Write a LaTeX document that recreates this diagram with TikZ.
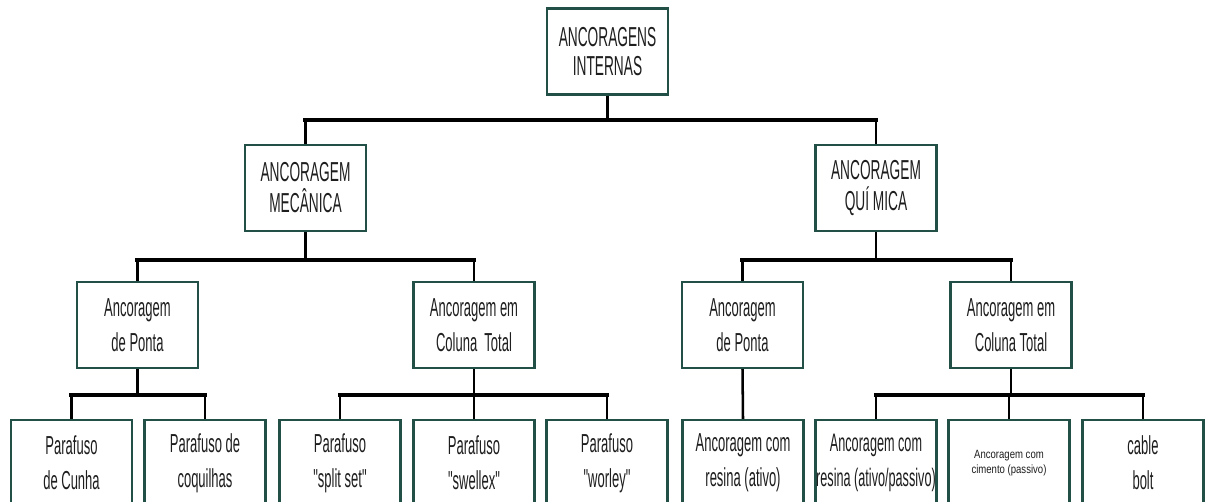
\documentclass[tikz,border=0pt]{standalone}
\usepackage{fontspec}
\setmainfont{Liberation Sans}[FakeStretch=0.5,Ligatures=TeXOff]
\newfontfamily\tinyfont{Liberation Sans}[FakeStretch=0.8]
\usepackage{tikz}
\usetikzlibrary{positioning,calc}
\definecolor{boxline}{RGB}{35,80,70}
\definecolor{boxtext}{RGB}{30,30,30}
\tikzset{
  box/.style={draw=boxline,line width=1.5pt,fill=white,minimum width=3.025cm,minimum height=2.15cm,
    inner sep=0pt,align=center,text=boxtext,font=\fontsize{18.5}{25}\selectfont},
  bigbox/.style={box,font=\fontsize{19.5}{22}\selectfont},
  stem/.style={black,line width=1.8pt},
  bar/.style={black,line width=3.4pt,line cap=rect}
}

\begin{document}
\begin{tikzpicture}[x=0.025cm,y=-0.025cm]
\useasboundingbox (0,0) rectangle (1208,501);
\clip (0,0) rectangle (1208,501);
% levels of the bars
\coordinate (bar1) at (0,120);
\coordinate (bar2) at (0,260);
\coordinate (bar3) at (0,395);
% top
\node[bigbox,font=\fontsize{19.5}{20}\selectfont] (top) at (607.5,51.5) {ANCORAGENS\\INTERNAS};
% second level
\node[bigbox] (mec) at (305.5,188) {ANCORAGEM\\MECÂNICA};
\node[bigbox] (qui) at (876,188) {ANCORAGEM\\QUÍ MICA};
% third level
\node[box] (ponta1) at (137.5,325) {Ancoragem\\de Ponta};
\node[box] (coluna1) at (474,325) {Ancoragem em\\Coluna\ \ Total};
\node[box] (ponta2) at (742.5,325) {Ancoragem\\de Ponta};
\node[box] (coluna2) at (1011,325) {Ancoragem em\\Coluna Total};
% fourth level
\node[box] (cunha) at (71.5,463) {Parafuso\\de Cunha};
\node[box] (coquilhas) at (205,463) {Parafuso de\\coquilhas};
\node[box] (splitset) at (340,463) {Parafuso\\"split set"};
\node[box] (swellex) at (474,463) {Parafuso\\"swellex"};
\node[box] (worley) at (607,463) {Parafuso\\"worley"};
\node[box] (resina) at (743,463) {Ancoragem com\\resina (ativo)};
\node[box,font=\fontsize{18}{25}\selectfont] (resinaap) at (876,463) {Ancoragem com\\resina (ativo/passivo)};
\node[box] (cimento) at (1009,463) {\raisebox{0.2cm}{\tinyfont\fontsize{8.5}{10.6}\selectfont
  \begin{tabular}{@{}c@{}}Ancoragem com\\cimento (passivo)\end{tabular}}};
\node[box] (cable) at (1143,463) {cable\\bolt};

% connectors
\draw[stem] (top.south) -- (top.south |- bar1);
\draw[bar] (mec.north |- bar1) -- (qui.north |- bar1);
\draw[stem] (mec.north |- bar1) -- (mec.north);
\draw[stem] (qui.north |- bar1) -- (qui.north);

\draw[stem] (mec.south) -- (mec.south |- bar2);
\draw[bar] (ponta1.north |- bar2) -- (coluna1.north |- bar2);
\draw[stem] (ponta1.north |- bar2) -- (ponta1.north);
\draw[stem] (coluna1.north |- bar2) -- (coluna1.north);

\draw[stem] (qui.south) -- (qui.south |- bar2);
\draw[bar] (ponta2.north |- bar2) -- (coluna2.north |- bar2);
\draw[stem] (ponta2.north |- bar2) -- (ponta2.north);
\draw[stem] (coluna2.north |- bar2) -- (coluna2.north);

\draw[stem] (ponta1.south) -- (ponta1.south |- bar3);
\draw[bar] (cunha.north |- bar3) -- (coquilhas.north |- bar3);
\draw[stem] (cunha.north |- bar3) -- (cunha.north);
\draw[stem] (coquilhas.north |- bar3) -- (coquilhas.north);

\draw[stem] (coluna1.south) -- (coluna1.south |- bar3);
\draw[bar] (splitset.north |- bar3) -- (worley.north |- bar3);
\draw[stem] (splitset.north |- bar3) -- (splitset.north);
\draw[stem] (swellex.north |- bar3) -- (swellex.north);
\draw[stem] (worley.north |- bar3) -- (worley.north);

\draw[stem] (ponta2.south) -- (resina.north);

\draw[stem] (coluna2.south) -- (coluna2.south |- bar3);
\draw[bar] (resinaap.north |- bar3) -- (cable.north |- bar3);
\draw[stem] (resinaap.north |- bar3) -- (resinaap.north);
\draw[stem] (cimento.north |- bar3) -- (cimento.north);
\draw[stem] (cable.north |- bar3) -- (cable.north);
\end{tikzpicture}
\end{document}
